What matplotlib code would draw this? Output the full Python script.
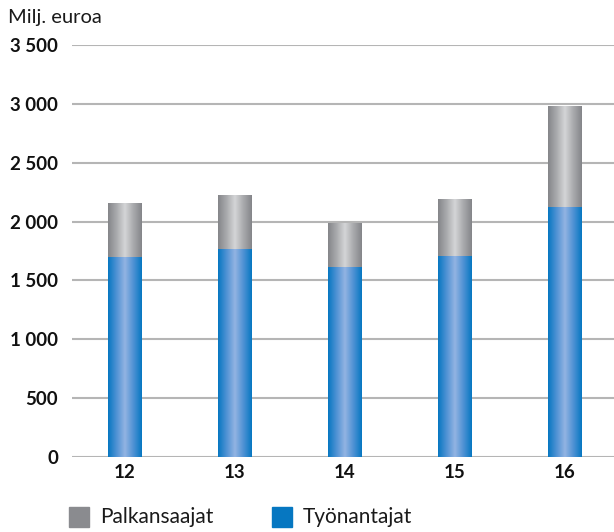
import numpy as np
import matplotlib.pyplot as plt
from matplotlib.colors import LinearSegmentedColormap
from matplotlib.patches import Rectangle

plt.rcParams["font.family"] = ["Lato", "DejaVu Sans"]

years = ["12", "13", "14", "15", "16"]
tyonantajat = [1700, 1765, 1615, 1710, 2120]
palkansaajat = [460, 460, 370, 485, 865]
yticks = [0, 500, 1000, 1500, 2000, 2500, 3000, 3500]
ytick_labels = ["0", "500", "1 000", "1 500", "2 000", "2 500", "3 000", "3 500"]

blue_cmap = LinearSegmentedColormap.from_list(
    "blue", ["#0677c1", "#4f92d4", "#93b4e2", "#4f92d4", "#0677c1"])
grey_cmap = LinearSegmentedColormap.from_list(
    "grey", ["#848589", "#a9aaad", "#d4d5d7", "#a9aaad", "#848589"])

fig = plt.figure(figsize=(6.14, 5.32), dpi=100)
ax = fig.add_axes([72 / 614, 75 / 532, 542 / 614, 412 / 532])

x = np.arange(len(years))
width = 34 / 110
bars_b = ax.bar(x, tyonantajat, width, color="#0677c1", zorder=2)
bars_g = ax.bar(x, palkansaajat, width, bottom=tyonantajat, color="#8a8b8f", zorder=2)

# horizontal gradient fill inside each bar
grad = np.linspace(0, 1, 256).reshape(1, -1)
for bars, cmap in [(bars_b, blue_cmap), (bars_g, grey_cmap)]:
    for b in bars:
        x0, y0 = b.get_x(), b.get_y()
        im = ax.imshow(grad, cmap=cmap, aspect="auto", zorder=3,
                       extent=[x0, x0 + b.get_width(), y0, y0 + b.get_height()])
        im.set_clip_path(b)

ax.set_xlim((72 - 125) / 110, (614 - 125) / 110)
ax.set_ylim(0, 3500)
ax.set_yticks(yticks, ytick_labels)
ax.set_xticks(x, years)
ax.grid(axis="y", color="#b5b5b5", linewidth=1.5, zorder=0)
ax.set_axisbelow(True)
for s in ax.spines.values():
    s.set_visible(False)
ax.tick_params(axis="both", length=0, labelsize=13.5, colors="#111111")
ax.tick_params(axis="y", pad=10)
ax.tick_params(axis="x", pad=5)
for lab in ax.get_xticklabels() + ax.get_yticklabels():
    lab.set_fontweight("bold")

fig.text(8 / 614, 1 - 17 / 532, "Milj. euroa", fontsize=14.5, va="center",
         ha="left", color="#1a1a1a")

# legend
for lx, col, txt in [(69, "#8a8b8f", "Palkansaajat"), (272, "#0677c1", "Työnantajat")]:
    fig.patches.append(Rectangle((lx / 614, 5 / 532), 20 / 614, 20 / 532,
                                 transform=fig.transFigure, color=col))
    fig.text((lx + 31) / 614, 15 / 532, txt, fontsize=15, va="center",
             ha="left", color="#1a1a1a")

fig.savefig("out.png", dpi=100)
